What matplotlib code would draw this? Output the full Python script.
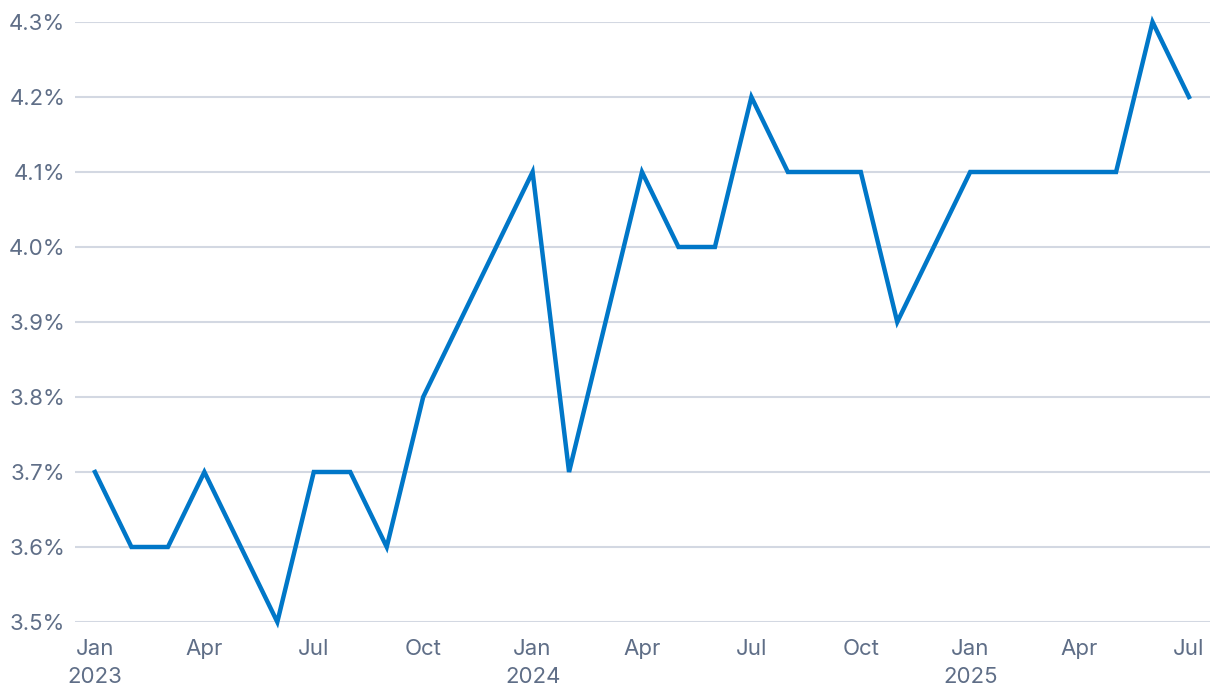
import matplotlib
matplotlib.use('Agg')
import matplotlib.pyplot as plt
import numpy as np

months = ['Jan\n2023', 'Feb', 'Mar', 'Apr', 'May', 'Jun', 'Jul', 'Aug', 'Sep', 'Oct', 'Nov', 'Dec',
          'Jan\n2024', 'Feb', 'Mar', 'Apr', 'May', 'Jun', 'Jul', 'Aug', 'Sep', 'Oct', 'Nov', 'Dec',
          'Jan\n2025', 'Feb', 'Mar', 'Apr', 'May', 'Jun', 'Jul']
rate = [3.7, 3.6, 3.6, 3.7, 3.6, 3.5, 3.7, 3.7, 3.6, 3.8, 3.9, 4.0,
        4.1, 3.7, 3.9, 4.1, 4.0, 4.0, 4.2, 4.1, 4.1, 4.1, 3.9, 4.0,
        4.1, 4.1, 4.1, 4.1, 4.1, 4.3, 4.2]
yticks = [3.5, 3.6, 3.7, 3.8, 3.9, 4.0, 4.1, 4.2, 4.3]

text_col = '#5f6e87'
grid_col = '#d3d8e2'
line_col = '#0077c8'

plt.rcParams['font.family'] = ['Inter', 'DejaVu Sans']

W, H = 1220, 698
fig = plt.figure(figsize=(W / 100, H / 100), dpi=100)
ax = fig.add_axes([75 / W, 1 - 622 / H, (1210 - 75) / W, 600 / H])

x = np.arange(len(rate))
ax.plot(x, rate, color=line_col, lw=3.2, clip_on=False, zorder=3, solid_joinstyle='miter')

ax.set_ylim(3.5, 4.3)
ax.set_xlim(-0.548, 30.576)
ax.set_yticks(yticks)
ax.set_yticklabels([f'{v:.1f}%' for v in yticks])
tick_pos = list(range(0, len(rate), 3))
ax.set_xticks(tick_pos)
ax.set_xticklabels([months[i] for i in tick_pos], linespacing=1.5)

ax.grid(axis='y', color=grid_col, lw=1.5)
ax.set_axisbelow(True)
for s in ax.spines.values():
    s.set_visible(False)
ax.tick_params(axis='both', length=0, labelsize=16, colors=text_col)
ax.tick_params(axis='y', pad=7)
ax.tick_params(axis='x', pad=12)

fig.savefig('out.png', dpi=100)
